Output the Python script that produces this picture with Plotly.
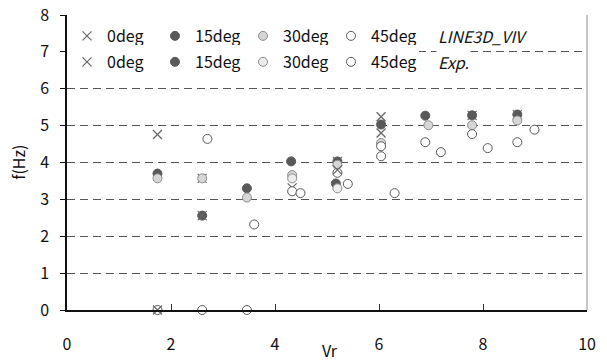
import plotly.graph_objects as go

# ---- data ----
angles = ["0deg", "15deg", "30deg", "45deg"]

sim_0_x = [1.74, 2.60, 4.33, 5.20, 6.04, 7.79, 8.66]
sim_0_y = [4.76, 3.57, 3.31, 4.03, 5.24, 5.28, 5.30]
sim_15_x = [1.74, 2.60, 3.46, 4.31, 5.20, 6.04, 6.89, 7.79, 8.66]
sim_15_y = [3.70, 2.56, 3.30, 4.03, 4.03, 5.03, 5.27, 5.28, 5.30]
sim_30_x = [1.74, 2.60, 3.46, 4.33, 5.20, 6.04, 6.95, 7.79, 8.66]
sim_30_y = [3.57, 3.57, 3.05, 3.66, 3.94, 4.53, 5.01, 5.01, 5.14]
sim_45_x = [1.74, 2.60, 3.46, 4.33, 5.20, 6.04, 6.89, 7.79, 8.66]
sim_45_y = [0.00, 0.00, 0.00, 3.22, 3.72, 4.17, 4.55, 4.77, 4.55]

exp_0_x = [1.74, 2.60, 5.20, 6.04]
exp_0_y = [0.00, 2.56, 3.80, 4.80]
exp_15_x = [5.17]
exp_15_y = [3.43]
exp_30_x = [4.33, 5.20]
exp_30_y = [3.57, 3.30]
exp_45_x = [2.70, 3.60, 4.49, 5.40, 6.04, 6.30, 7.19, 8.09, 8.99]
exp_45_y = [4.64, 2.32, 3.17, 3.42, 4.44, 3.17, 4.28, 4.39, 4.89]

x_ticks = [0, 2, 4, 6, 8, 10]
y_ticks = [0, 1, 2, 3, 4, 5, 6, 7, 8]

FONT = "Noto Sans CJK JP"

styles = {
    "0deg": dict(symbol="x-thin", size=9, color="#666666", line=dict(width=1.2, color="#666666")),
    "15deg": dict(symbol="circle", size=9, color="#595959", line=dict(width=1, color="#595959")),
    "30deg": dict(symbol="circle", size=9, color="#d6d6d6", line=dict(width=1, color="#8c8c8c")),
    "45deg": dict(symbol="circle", size=9, color="#ffffff", line=dict(width=1, color="#595959")),
}
styles_exp = dict(styles)
styles_exp["30deg"] = dict(symbol="circle", size=9, color="#ececec", line=dict(width=1, color="#8c8c8c"))

sim = {"0deg": (sim_0_x, sim_0_y), "15deg": (sim_15_x, sim_15_y),
       "30deg": (sim_30_x, sim_30_y), "45deg": (sim_45_x, sim_45_y)}
exp = {"0deg": (exp_0_x, exp_0_y), "15deg": (exp_15_x, exp_15_y),
       "30deg": (exp_30_x, exp_30_y), "45deg": (exp_45_x, exp_45_y)}

fig = go.Figure()
for a in angles:
    fig.add_trace(go.Scatter(x=sim[a][0], y=sim[a][1], mode="markers", name=a,
                             marker=styles[a], legend="legend", cliponaxis=False))
for a in angles:
    fig.add_trace(go.Scatter(x=exp[a][0], y=exp[a][1], mode="markers", name=a,
                             marker=styles_exp[a], legend="legend2", cliponaxis=False))

# plot area: x 67..587 px, y 15..310.5 px
W, H = 607, 363
L, R, T, B = 67, 20, 15, 52.5
ph = H - T - B

def py(p):
    return (H - B - p) / ph

def px(p):
    return (p - L) / (W - L - R)

leg_common = dict(orientation="h", bgcolor="#ffffff", font=dict(family=FONT, size=16, color="#111111"),
                  itemwidth=30, entrywidth=43, xanchor="left", yanchor="middle",
                  tracegroupgap=0, borderwidth=0)

fig.update_layout(
    width=W, height=H,
    margin=dict(l=L, r=R, t=T, b=B, autoexpand=False),
    paper_bgcolor="#ffffff", plot_bgcolor="#ffffff",
    showlegend=True,
    legend=dict(x=0, y=py(36), **leg_common),
    legend2=dict(x=0, y=py(62), **leg_common),
    font=dict(family=FONT, size=16, color="#111111"),
    xaxis=dict(range=[0, 10], tickvals=x_ticks, ticks="inside", ticklen=6, tickcolor="#333333",
               showgrid=False, zeroline=False, showline=True, linecolor="#111111", linewidth=1.5,
               automargin=False,
               ticklabelstandoff=19, tickfont=dict(family=FONT, size=16, color="#111111")),
    yaxis=dict(range=[0, 8], tickvals=y_ticks, ticks="outside", ticklen=5, tickcolor="#111111",
               showgrid=True, gridcolor="#555555", gridwidth=1, griddash="8px,5px",
               zeroline=False, showline=True, linecolor="#111111", linewidth=1.5,
               automargin=False,
               ticklabelstandoff=8, tickfont=dict(family=FONT, size=16, color="#111111")),
    annotations=[
        dict(text="LINE3D_VIV", x=px(436), y=py(36), xref="paper", yref="paper", xanchor="left",
             yanchor="middle", showarrow=False, font=dict(family=FONT, size=16, color="#111111", style="italic"),
             bgcolor="#ffffff"),
        dict(text="Exp.", x=px(436), y=py(62), xref="paper", yref="paper", xanchor="left",
             yanchor="middle", showarrow=False, font=dict(family=FONT, size=16, color="#111111", style="italic"),
             bgcolor="#ffffff"),
        dict(text="Vr", x=px(330), y=py(351), xref="paper", yref="paper", xanchor="center",
             yanchor="middle", showarrow=False, font=dict(family=FONT, size=16, color="#111111")),
        dict(text="f(Hz)", x=px(18), y=py(163), xref="paper", yref="paper", xanchor="center",
             yanchor="middle", showarrow=False, textangle=-90, font=dict(family=FONT, size=16, color="#111111")),
    ],
    shapes=[dict(type="line", xref="paper", yref="paper", x0=1, x1=1, y0=0, y1=1,
                 line=dict(color="#8c8c8c", width=1))],
)

fig.write_html("out.html")
